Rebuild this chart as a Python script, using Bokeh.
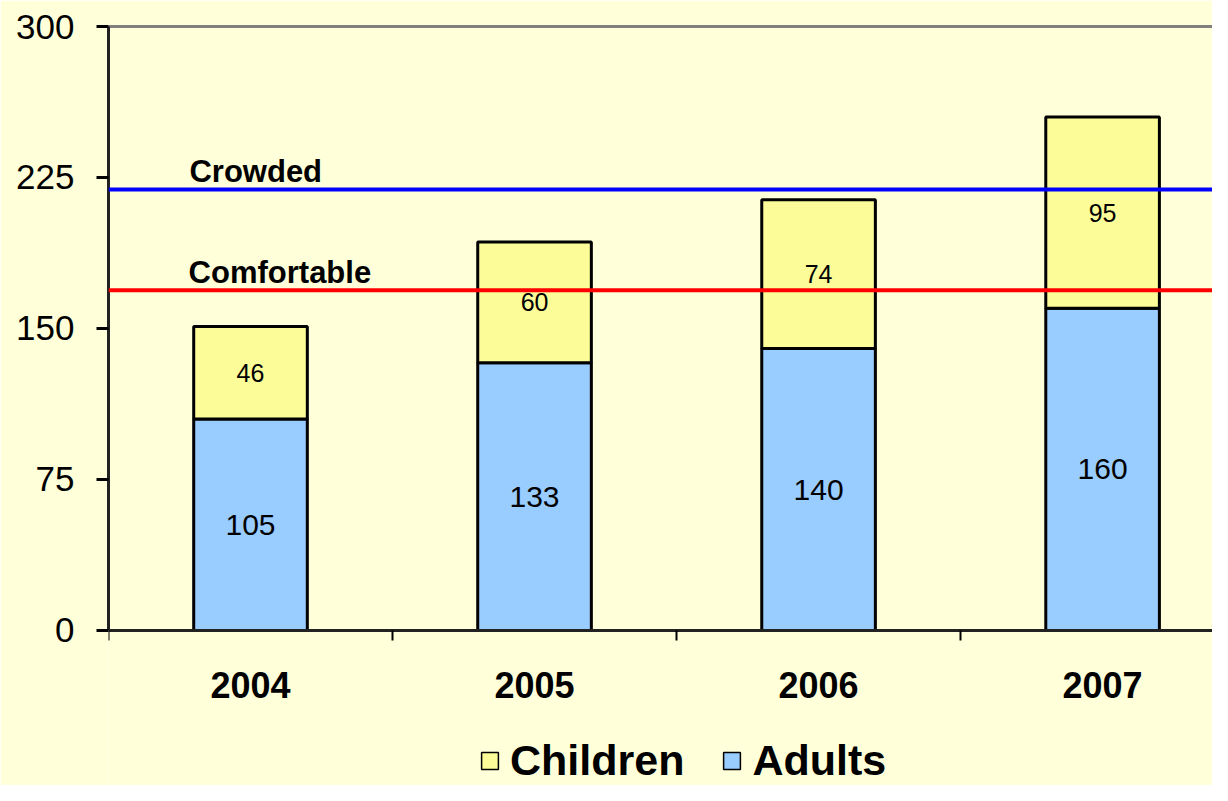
from bokeh.plotting import figure
from bokeh.models import (ColumnDataSource, Range1d, FixedTicker, LinearAxis, Span,
                          Label, LabelSet, Legend, LegendItem)
from bokeh.core.properties import value
from bokeh.embed import file_html
from bokeh.resources import INLINE

years = ["2004", "2005", "2006", "2007"]
adults = [105, 133, 140, 160]
children = [46, 60, 74, 95]
y_ticks = [0, 75, 150, 225, 300]
crowded_level = 219
comfortable_level = 169

BG = "#FFFFD9"
BLUE = "#99CCFF"
YELLOW = "#FCFC99"
FONT = "Liberation Sans"

centers = [i + 0.5 for i in range(len(years))]
bounds = [float(i) for i in range(len(years))]

src = ColumnDataSource(dict(
    x=centers, adults=adults, children=children,
    adult_mid=[a / 2 for a in adults],
    child_mid=[a + c / 2 for a, c in zip(adults, children)],
    adult_txt=[str(a) for a in adults],
    child_txt=[str(c) for c in children],
))

# frame spans from the top line down to the bottom of the canvas; the x axis
# sits at y = 0 inside it so the legend can be placed beneath the labels
p = figure(width=1212, height=785, output_backend="svg", toolbar_location=None,
           x_range=Range1d(0, 3.887), y_range=Range1d(-77, 300),
           min_border_left=108, min_border_right=0, min_border_top=26, min_border_bottom=0,
           x_axis_location=None, y_axis_location="left")
p.background_fill_color = BG
p.border_fill_color = BG
p.outline_line_color = None
p.grid.visible = False

# thin-outlined copy underneath (used for the legend swatches)
thin = p.vbar_stack(["adults", "children"], x="x", width=0.4, color=[BLUE, YELLOW],
                    line_color="black", line_width=1.5, source=src)
rs = p.vbar_stack(["adults", "children"], x="x", width=0.4, color=[BLUE, YELLOW],
                  line_color="black", line_width=3, source=src)

# y axis
ya = p.yaxis[0]
ya.ticker = FixedTicker(ticks=y_ticks)
ya.bounds = (0, 300)
ya.axis_line_color = "#222222"
ya.axis_line_width = 3
ya.major_tick_out = 12
ya.major_tick_in = 0
ya.major_tick_line_width = 3
ya.major_tick_line_color = "black"
ya.minor_tick_out = 0
ya.minor_tick_in = 0
ya.major_label_standoff = 22
ya.major_label_text_font = FONT
ya.major_label_text_font_size = "35px"
ya.major_label_text_color = "black"

# x axis at y = 0
xa = LinearAxis(fixed_location=0)
xa.ticker = FixedTicker(ticks=centers, minor_ticks=bounds)
xa.major_label_overrides = {c: y for c, y in zip(centers, years)}
xa.axis_line_color = "#222222"
xa.axis_line_width = 3
xa.major_tick_out = 0
xa.major_tick_in = 0
xa.minor_tick_out = 10
xa.minor_tick_in = 0
xa.minor_tick_line_width = 2
xa.minor_tick_line_color = "black"
xa.major_label_standoff = 32
xa.major_label_text_font = FONT
xa.major_label_text_font_size = "36px"
xa.major_label_text_font_style = "bold"
xa.major_label_text_color = "black"
p.add_layout(xa, "below")

# top frame line
top = LinearAxis(ticker=FixedTicker(ticks=[]), axis_line_color="#808080", axis_line_width=3,
                 major_tick_out=0, major_tick_in=0, minor_tick_out=0, minor_tick_in=0)
p.add_layout(top, "above")

# threshold lines
p.add_layout(Span(location=crowded_level, dimension="width", line_color="#0000FF", line_width=4))
p.add_layout(Span(location=comfortable_level, dimension="width", line_color="#FF0000", line_width=4))
p.add_layout(Label(x=0.285, y=crowded_level, y_offset=18, text="Crowded",
                   text_font=FONT, text_font_size="31px", text_font_style="bold",
                   text_baseline="alphabetic", text_color="black"))
p.add_layout(Label(x=0.282, y=comfortable_level, y_offset=18, text="Comfortable",
                   text_font=FONT, text_font_size="31px", text_font_style="bold",
                   text_baseline="alphabetic", text_color="black"))

# value labels
p.add_layout(LabelSet(x="x", y="adult_mid", text="adult_txt", source=src,
                      text_align="center", text_baseline="middle",
                      text_font=value(FONT), text_font_size=value("30px"), text_color="black"))
p.add_layout(LabelSet(x="x", y="child_mid", text="child_txt", source=src,
                      text_align="center", text_baseline="middle",
                      text_font=value(FONT), text_font_size=value("25px"), text_color="black"))

legend = Legend(items=[LegendItem(label="Children", renderers=[thin[1]]),
                       LegendItem(label="Adults", renderers=[thin[0]])],
                orientation="horizontal", location=(371, 0),
                background_fill_alpha=0, border_line_alpha=0,
                label_text_font=FONT, label_text_font_size="43px",
                label_text_font_style="bold", label_text_color="black",
                glyph_width=21, glyph_height=21, spacing=37, label_standoff=10,
                padding=0, margin=0)
p.add_layout(legend, "center")

open("out.html", "w").write(file_html(p, INLINE))
